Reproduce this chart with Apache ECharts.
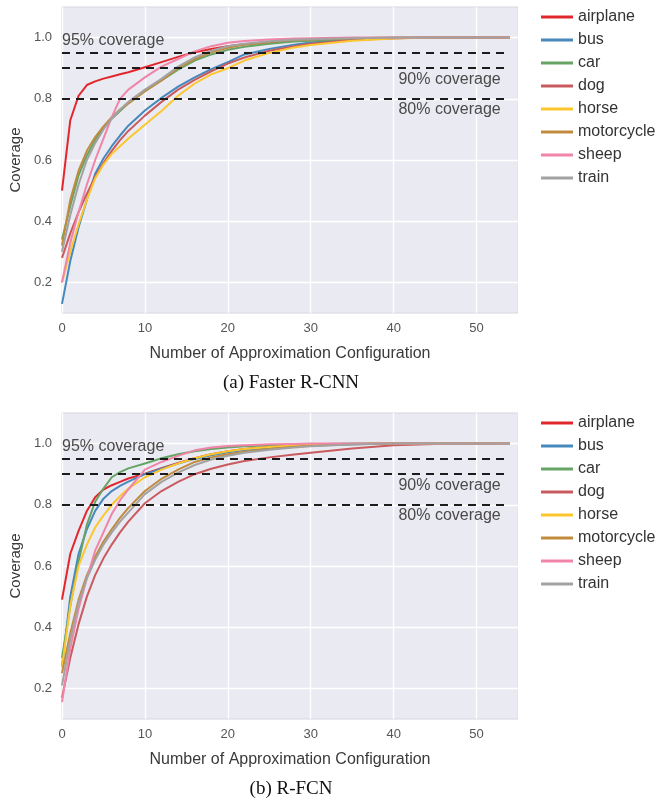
<!DOCTYPE html>
<html>
<head>
<meta charset="utf-8">
<script src="https://cdn.jsdelivr.net/npm/echarts@6/dist/echarts.min.js"></script>
<style>
	body { margin: 0; background: #fff; }
	#chart { width: 664px; height: 804px; }
</style>
</head>
<body>
<div id="chart"></div>
<script>
var xs = [0, 1, 2, 3, 4, 5, 6, 7, 8, 10, 12, 14, 16, 18, 20, 22, 25, 28, 30, 35, 40, 45, 54];

var classNames = ['airplane', 'bus', 'car', 'dog', 'horse', 'motorcycle', 'sheep', 'train'];
var classColors = ['#e2272c', '#4589bd', '#65a465', '#c95a5e', '#fcc62e', '#c18b3e', '#f084a9', '#a2a2a2'];

// (a) Faster R-CNN
var rcnnAirplane = [0.50, 0.73, 0.81, 0.845, 0.857, 0.866, 0.873, 0.88, 0.887, 0.903, 0.92, 0.937, 0.952, 0.963, 0.972, 0.978, 0.985, 0.99, 0.993, 0.997, 0.999, 1, 1];
var rcnnBus = [0.13, 0.27, 0.38, 0.47, 0.555, 0.605, 0.645, 0.68, 0.712, 0.762, 0.803, 0.84, 0.87, 0.897, 0.92, 0.945, 0.963, 0.977, 0.984, 0.994, 0.998, 1, 1];
var rcnnCar = [0.34, 0.45, 0.55, 0.615, 0.665, 0.705, 0.735, 0.76, 0.785, 0.825, 0.86, 0.895, 0.925, 0.945, 0.96, 0.97, 0.98, 0.987, 0.99, 0.996, 0.999, 1, 1];
var rcnnDog = [0.28, 0.36, 0.43, 0.49, 0.545, 0.59, 0.63, 0.665, 0.695, 0.745, 0.79, 0.83, 0.862, 0.89, 0.915, 0.935, 0.957, 0.972, 0.98, 0.992, 0.998, 1, 1];
var rcnnHorse = [0.2, 0.3, 0.39, 0.47, 0.54, 0.585, 0.62, 0.645, 0.67, 0.715, 0.76, 0.81, 0.85, 0.88, 0.9, 0.925, 0.95, 0.968, 0.976, 0.99, 0.997, 1, 1];
var rcnnMotorcycle = [0.32, 0.47, 0.565, 0.63, 0.675, 0.71, 0.74, 0.765, 0.785, 0.825, 0.86, 0.9, 0.93, 0.952, 0.967, 0.977, 0.986, 0.992, 0.994, 0.998, 1, 1, 1];
var rcnnSheep = [0.2, 0.33, 0.43, 0.52, 0.6, 0.67, 0.74, 0.8, 0.83, 0.87, 0.905, 0.93, 0.955, 0.972, 0.983, 0.989, 0.994, 0.997, 0.998, 1, 1, 1, 1];
var rcnnTrain = [0.3, 0.42, 0.52, 0.6, 0.655, 0.7, 0.735, 0.765, 0.79, 0.83, 0.865, 0.905, 0.935, 0.957, 0.972, 0.98, 0.988, 0.993, 0.995, 0.998, 1, 1, 1];

// (b) R-FCN
var rfcnAirplane = [0.49, 0.64, 0.715, 0.78, 0.825, 0.85, 0.864, 0.875, 0.886, 0.902, 0.92, 0.937, 0.952, 0.965, 0.975, 0.982, 0.99, 0.995, 0.997, 0.999, 1, 1, 1];
var rfcnBus = [0.27, 0.5, 0.64, 0.72, 0.78, 0.82, 0.845, 0.862, 0.876, 0.9, 0.918, 0.935, 0.95, 0.962, 0.972, 0.979, 0.986, 0.992, 0.994, 0.998, 1, 1, 1];
var rfcnCar = [0.3, 0.47, 0.615, 0.735, 0.81, 0.853, 0.89, 0.907, 0.919, 0.935, 0.952, 0.965, 0.975, 0.982, 0.987, 0.991, 0.995, 0.997, 0.998, 1, 1, 1, 1];
var rfcnDog = [0.17, 0.3, 0.41, 0.5, 0.57, 0.625, 0.67, 0.71, 0.745, 0.805, 0.845, 0.875, 0.9, 0.918, 0.932, 0.943, 0.955, 0.964, 0.97, 0.984, 0.995, 0.999, 1];
var rfcnHorse = [0.27, 0.47, 0.6, 0.67, 0.726, 0.765, 0.8, 0.828, 0.853, 0.89, 0.915, 0.935, 0.952, 0.965, 0.975, 0.982, 0.989, 0.994, 0.996, 0.999, 1, 1, 1];
var rfcnMotorcycle = [0.25, 0.38, 0.49, 0.57, 0.63, 0.68, 0.72, 0.757, 0.79, 0.845, 0.885, 0.915, 0.94, 0.955, 0.965, 0.973, 0.982, 0.99, 0.993, 0.998, 1, 1, 1];
var rfcnSheep = [0.155, 0.33, 0.46, 0.56, 0.65, 0.71, 0.77, 0.815, 0.85, 0.915, 0.94, 0.96, 0.978, 0.987, 0.992, 0.995, 0.998, 0.999, 1, 1, 1, 1, 1];
var rfcnTrain = [0.21, 0.36, 0.48, 0.56, 0.62, 0.67, 0.71, 0.745, 0.775, 0.835, 0.875, 0.905, 0.93, 0.948, 0.96, 0.97, 0.98, 0.987, 0.991, 0.997, 1, 1, 1];

var coverageLevels = [0.95, 0.9, 0.8];
var coverageLabels = ['95% coverage', '90% coverage', '80% coverage'];
var xTicks = [0, 10, 20, 30, 40, 50];
var yTicks = [0.2, 0.4, 0.6, 0.8, 1.0];
var captions = ['(a) Faster R-CNN', '(b) R-FCN'];

var panels = [
	[rcnnAirplane, rcnnBus, rcnnCar, rcnnDog, rcnnHorse, rcnnMotorcycle, rcnnSheep, rcnnTrain],
	[rfcnAirplane, rfcnBus, rfcnCar, rfcnDog, rfcnHorse, rfcnMotorcycle, rfcnSheep, rfcnTrain]
];

var font = 'Liberation Sans, Arial, sans-serif';
var gridTops = [7, 413];
var myChart = echarts.init(document.getElementById('chart'));

function coverageMarkLine() {
	var lastX = xs[xs.length - 1];
	var data = [];
	for (var i = 0; i < coverageLevels.length; i++) {
		data.push([
			{
				coord: [0, coverageLevels[i]],
				label: {
					show: true,
					formatter: coverageLabels[i],
					position: i == 0 ? 'insideStartTop' : 'insideEndBottom',
					distance: i == 0 ? [0, 4] : [9, 3],
					fontSize: 16,
					fontFamily: font,
					color: '#4a4a4a'
				}
			},
			{ coord: [lastX, coverageLevels[i]] }
		]);
	}
	return {
		silent: true,
		symbol: ['none', 'none'],
		animation: false,
		lineStyle: { color: '#1c1c1c', width: 2.2, type: [8, 6] },
		data: data
	};
}

var grids = [], xAxes = [], yAxes = [], series = [], legends = [], texts = [];
for (var g = 0; g < 2; g++) {
	grids.push({
		left: 62, top: gridTops[g], width: 456, height: 306,
		show: true, backgroundColor: '#eaeaf2', borderColor: '#d6d6de', borderWidth: 1
	});
	xAxes.push({
		type: 'value', gridIndex: g, min: 0, max: 55, interval: 10,
		name: 'Number of Approximation Configuration',
		nameLocation: 'middle', nameGap: 33,
		nameTextStyle: { fontSize: 16, color: '#3a3a3a', fontFamily: font },
		axisLine: { show: false }, axisTick: { show: false },
		axisLabel: {
			color: '#555', fontSize: 13, fontFamily: font, margin: 9,
			formatter: function (v) { return xTicks.indexOf(v) >= 0 ? String(v) : ''; }
		},
		splitLine: { show: true, lineStyle: { color: '#fff', width: 1.3 } }
	});
	yAxes.push({
		type: 'value', gridIndex: g, min: 0.1, max: 1.1, interval: 0.1,
		name: 'Coverage', nameLocation: 'middle', nameGap: 37, nameRotate: 90,
		nameTextStyle: { fontSize: 15, color: '#3a3a3a', fontFamily: font },
		axisLine: { show: false }, axisTick: { show: false },
		axisLabel: {
			color: '#555', fontSize: 13, fontFamily: font, margin: 10,
			formatter: function (v) {
				var r = Math.round(v * 10) / 10;
				return yTicks.indexOf(r) >= 0 ? r.toFixed(1) : '';
			}
		},
		// only every other line (0.2, 0.4 ...) is drawn
		splitLine: { show: true, lineStyle: { color: ['rgba(0,0,0,0)', '#fff'], width: 1.3 } }
	});
	for (var i = 0; i < classNames.length; i++) {
		var vals = panels[g][i];
		var pts = [];
		for (var k = 0; k < xs.length; k++) {
			pts.push([xs[k], vals[k]]);
		}
		var s = {
			type: 'line', name: classNames[i], xAxisIndex: g, yAxisIndex: g,
			data: pts, showSymbol: false, smooth: false,
			animation: false,
			lineStyle: { color: classColors[i], width: 2, join: 'round' },
			itemStyle: { color: classColors[i] }
		};
		if (i == classNames.length - 1) {
			s.markLine = coverageMarkLine();
		}
		series.push(s);
	}
	legends.push({
		data: classNames, orient: 'vertical', left: 536, top: gridTops[g] - 3,
		icon: 'rect', itemWidth: 32, itemHeight: 3, itemGap: 7,
		textStyle: { fontSize: 16, color: '#333', fontFamily: font }
	});
	texts.push({
		type: 'text', x: 291, y: gridTops[g] + 376,
		style: {
			text: captions[g], align: 'center', verticalAlign: 'middle',
			textAlign: 'center', textVerticalAlign: 'middle',
			font: '19px "Liberation Serif", "Times New Roman", serif', fill: '#111'
		}
	});
}

var option = {
	animation: false,
	grid: grids,
	xAxis: xAxes,
	yAxis: yAxes,
	legend: legends,
	series: series,
	graphic: texts
};
myChart.setOption(option);
</script>
</body>
</html>
